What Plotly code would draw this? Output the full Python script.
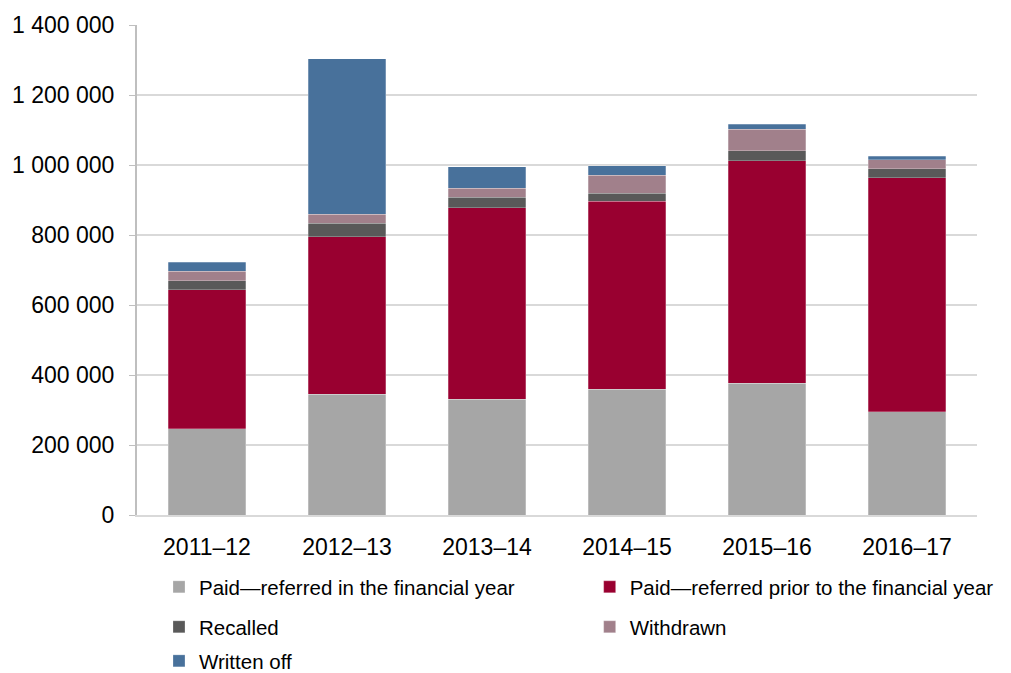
import plotly.graph_objects as go

years = ["2011–12", "2012–13", "2013–14", "2014–15", "2015–16", "2016–17"]

paid_in_year = [247000, 345000, 331000, 359000, 377000, 295000]
paid_prior = [397000, 450000, 547000, 537000, 635000, 669000]
recalled = [25000, 39000, 30000, 24000, 29000, 25000]
withdrawn = [27000, 26000, 25000, 51000, 61000, 26000]
written_off = [26000, 443000, 62000, 27000, 14000, 10000]

series = [
    ("Paid—referred in the financial year", paid_in_year, "#A6A6A6", "legend"),
    ("Paid—referred prior to the financial year", paid_prior, "#990030", "legend2"),
    ("Recalled", recalled, "#595959", "legend3"),
    ("Withdrawn", withdrawn, "#A1808B", "legend4"),
    ("Written off", written_off, "#48719B", "legend5"),
]

fig = go.Figure()
for name, vals, color, leg in series:
    fig.add_trace(go.Bar(
        x=years, y=vals, name=name, legend=leg, showlegend=True,
        marker=dict(color=color, line=dict(color="rgba(255,255,255,0.5)", width=0.5)),
    ))

font = dict(family="Liberation Sans, Arial, sans-serif", size=23, color="#000000")
legfont = dict(family="Liberation Sans, Arial, sans-serif", size=20.5, color="#000000")

# page body has an 8px margin, so the figure is a bit smaller than the window
# one legend per entry so the two-column grid can be placed by hand
leg_common = dict(
    orientation="h", xanchor="left", yanchor="middle",
    xref="container", yref="container", itemwidth=30, indentation=23,
    font=legfont, bgcolor="rgba(0,0,0,0)",
    itemclick=False, itemdoubleclick=False,
)
col_x = [0.1276, 0.557]
row_y = [0.1293, 0.0692, 0.018]

fig.update_layout(
    width=1003, height=665,
    margin=dict(l=129, r=34, t=17, b=158),
    barmode="stack", bargap=0.443, showlegend=True,
    plot_bgcolor="white", paper_bgcolor="white",
    font=font, separators=". ",
    legend=dict(leg_common, x=col_x[0], y=row_y[0]),
    legend2=dict(leg_common, x=col_x[1], y=row_y[0]),
    legend3=dict(leg_common, x=col_x[0], y=row_y[1]),
    legend4=dict(leg_common, x=col_x[1], y=row_y[1]),
    legend5=dict(leg_common, x=col_x[0], y=row_y[2]),
    xaxis=dict(
        showline=True, linecolor="#D9D9D9", linewidth=2,
        ticks="", tickfont=font, showgrid=False,
        ticklabelstandoff=10, automargin=False,
    ),
    yaxis=dict(
        range=[0, 1400000], dtick=200000, tickformat=",d",
        showgrid=True, gridcolor="#D9D9D9", gridwidth=2,
        showline=True, linecolor="#BFBFBF", linewidth=2,
        ticks="outside", ticklen=6, tickcolor="#BFBFBF",
        ticklabelstandoff=10, tickfont=font, zeroline=False,
        automargin=False,
    ),
)

fig.write_html("out.html")
